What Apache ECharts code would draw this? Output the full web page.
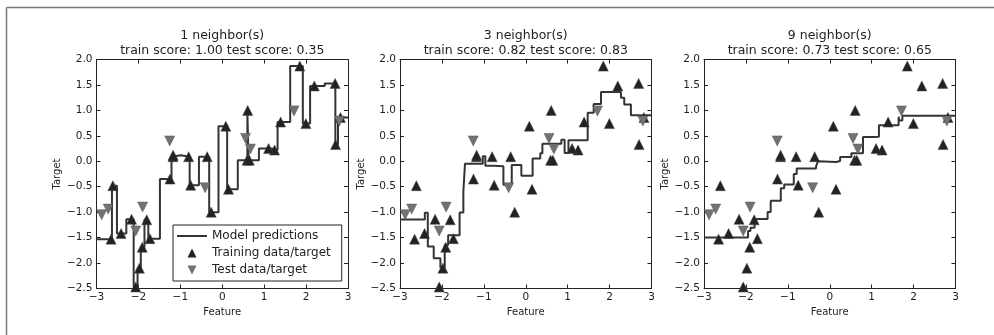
<!DOCTYPE html>
<html>
<head>
<meta charset="utf-8">
<script src="https://cdn.jsdelivr.net/npm/echarts@6/dist/echarts.min.js"></script>
<style>
  html, body { margin: 0; padding: 0; background: #fff; }
  #chart { width: 994px; height: 335px; }
</style>
</head>
<body>
<div id="chart"></div>
<script>
// training points (x, y)
const trainX = [-0.753, 2.704, 1.392, 0.592, -2.064, -2.652, 2.197, 0.607, 1.248, 2.820,
                1.995, -1.726, -1.909, -1.175, 0.149, -1.247, -2.163, -0.802, -0.264, -1.802,
                0.085, 0.645, -1.977, -2.610, 2.693, 1.850, -1.172, -2.414, 1.105, -0.359];
const trainY = [-0.47, 0.33, 0.77, 0.02, -2.47, -1.53, 1.48, 1.00, 0.22, 0.86,
                0.74, -1.52, -1.69, 0.09, -0.55, -0.35, -1.14, 0.09, -1.00, -1.15,
                0.69, 0.02, -2.10, -0.48, 1.53, 1.87, 0.12, -1.42, 0.25, 0.09];
// test points
const testX = [-2.877, -2.721, -2.064, -1.900, -1.253, -0.408, 0.555, 0.671, 1.711, 2.794];
const testY = [-1.05, -0.94, -1.37, -0.90, 0.40, -0.52, 0.45, 0.24, 0.99, 0.79];

const neighbors = [1, 3, 9];
const trainScores = ['1.00', '0.82', '0.73'];
const testScores = ['0.35', '0.83', '0.65'];

const xMin = -3, xMax = 3;
const yMin = -2.5, yMax = 2.0;

// k nearest neighbours prediction of the model at x
function predict(x, k) {
  const d = trainX.map((tx, i) => [Math.abs(tx - x), trainY[i]]);
  d.sort((a, b) => a[0] - b[0]);
  let s = 0;
  for (let i = 0; i < k; i++) s += d[i][1];
  return s / k;
}

// step line of the model over [-3, 3]
function modelLine(k) {
  const cuts = [];
  for (let i = 0; i < trainX.length; i++) {
    for (let j = i + 1; j < trainX.length; j++) {
      const m = (trainX[i] + trainX[j]) / 2;
      if (m > xMin && m < xMax) cuts.push(m);
    }
  }
  cuts.sort((a, b) => a - b);
  const edges = [xMin].concat(cuts, [xMax]);
  const pts = [];
  let last = null;
  for (let i = 0; i < edges.length - 1; i++) {
    const a = edges[i], b = edges[i + 1];
    if (b - a < 1e-9) continue;
    const v = predict((a + b) / 2, k);
    if (last !== null && Math.abs(v - last) < 1e-9) continue;
    pts.push([a, v]);
    last = v;
  }
  pts.push([xMax, last]);
  return pts;
}

const font = 'DejaVu Sans';
const ink = '#222';
const minus = s => String(s).replace('-', '\u2212');

const gridLefts = [96.5, 400, 704];
const gridW = 251.5, gridTop = 59.5, gridH = 229;

const grids = [], xAxes = [], yAxes = [], titles = [], series = [];

const downTri = 'path://M0,0L10,0L5,10Z';
// legend icons drawn in a 30x10 box (tiny corner specks keep the box size)
const box = 'M0,0L0.01,0L0,0.01ZM30,10L29.99,10L30,9.99Z';
const legLine = 'path://' + box + 'M0,4L30,4L30,6L0,6Z';
const legUp = 'path://' + box + 'M10.5,9.5L15,0.5L19.5,9.5Z';
const legDown = 'path://' + box + 'M10.5,0.5L19.5,0.5L15,9.5Z';

neighbors.forEach((k, g) => {
  grids.push({ left: gridLefts[g], top: gridTop, width: gridW, height: gridH });

  titles.push({
    text: k + ' neighbor(s)',
    subtext: 'train score: ' + trainScores[g] + ' test score: ' + testScores[g],
    left: gridLefts[g] + gridW / 2,
    top: 29,
    textAlign: 'center',
    padding: 0,
    itemGap: 2,
    textStyle: { fontFamily: font, fontSize: 12.5, fontWeight: 'normal', color: ink },
    subtextStyle: { fontFamily: font, fontSize: 12.5, color: ink }
  });

  const tick = { show: true, inside: true, length: 4, lineStyle: { color: ink } };
  const line = { show: true, onZero: false, lineStyle: { color: ink, width: 1 } };

  xAxes.push({
    type: 'value', gridIndex: g, position: 'bottom',
    min: xMin, max: xMax, interval: 1,
    name: 'Feature', nameLocation: 'middle', nameGap: 17,
    nameTextStyle: { fontFamily: font, fontSize: 10, color: ink },
    axisLine: line, axisTick: tick, splitLine: { show: false },
    axisLabel: { fontFamily: font, fontSize: 10.5, color: ink, margin: 3, formatter: v => minus(v) }
  });
  xAxes.push({
    type: 'value', gridIndex: g, position: 'top',
    min: xMin, max: xMax, interval: 1,
    axisLine: line, axisTick: tick, splitLine: { show: false },
    axisLabel: { show: false }
  });
  yAxes.push({
    type: 'value', gridIndex: g, position: 'left',
    min: yMin, max: yMax, interval: 0.5,
    name: 'Target', nameLocation: 'middle', nameGap: 34,
    nameTextStyle: { fontFamily: font, fontSize: 10, color: ink },
    axisLine: line, axisTick: tick, splitLine: { show: false },
    axisLabel: { fontFamily: font, fontSize: 10.5, color: ink, margin: 4, formatter: v => minus(v.toFixed(1)) }
  });
  yAxes.push({
    type: 'value', gridIndex: g, position: 'right',
    min: yMin, max: yMax, interval: 0.5,
    axisLine: line, axisTick: tick, splitLine: { show: false },
    axisLabel: { show: false }
  });

  series.push({
    name: 'Model predictions', type: 'line', step: 'end',
    xAxisIndex: 2 * g, yAxisIndex: 2 * g,
    data: modelLine(k), symbol: 'none',
    lineStyle: { color: '#333', width: 2 }, itemStyle: { color: '#333' },
    z: 2
  });
  series.push({
    name: 'Training data/target', type: 'scatter',
    xAxisIndex: 2 * g, yAxisIndex: 2 * g,
    data: trainX.map((x, i) => [x, trainY[i]]),
    symbol: 'triangle', symbolSize: 10,
    itemStyle: { color: '#222', borderColor: '#444', borderWidth: 0.5, opacity: 1 },
    z: 3
  });
  series.push({
    name: 'Test data/target', type: 'scatter',
    xAxisIndex: 2 * g, yAxisIndex: 2 * g,
    data: testX.map((x, i) => [x, testY[i]]),
    symbol: downTri, symbolSize: 10,
    itemStyle: { color: '#727272', borderColor: '#555', borderWidth: 0.5, opacity: 1 },
    z: 4
  });
});

const chart = echarts.init(document.getElementById('chart'), null, { renderer: 'canvas' });
chart.setOption({
  animation: false,
  backgroundColor: '#fff',
  title: titles,
  grid: grids,
  xAxis: xAxes,
  yAxis: yAxes,
  legend: {
    orient: 'vertical',
    left: 173, top: 225,
    width: 170,
    padding: [5, 11, 5, 4],
    itemGap: 5,
    itemWidth: 30, itemHeight: 10,
    borderColor: ink, borderWidth: 1,
    backgroundColor: '#fff',
    textStyle: { fontFamily: font, fontSize: 12, color: ink },
    data: [
      { name: 'Model predictions', icon: legLine, itemStyle: { color: '#333', borderWidth: 0 } },
      { name: 'Training data/target', icon: legUp, itemStyle: { color: '#222', borderWidth: 0 } },
      { name: 'Test data/target', icon: legDown, itemStyle: { color: '#727272', borderWidth: 0 } }
    ]
  },
  graphic: [
    { type: 'line', shape: { x1: 6.5, y1: 7.5, x2: 994, y2: 7.5 }, style: { stroke: '#777', lineWidth: 1.5 }, silent: true },
    { type: 'line', shape: { x1: 6.5, y1: 7.5, x2: 6.5, y2: 335 }, style: { stroke: '#777', lineWidth: 1.5 }, silent: true }
  ],
  series: series
});
</script>
</body>
</html>
